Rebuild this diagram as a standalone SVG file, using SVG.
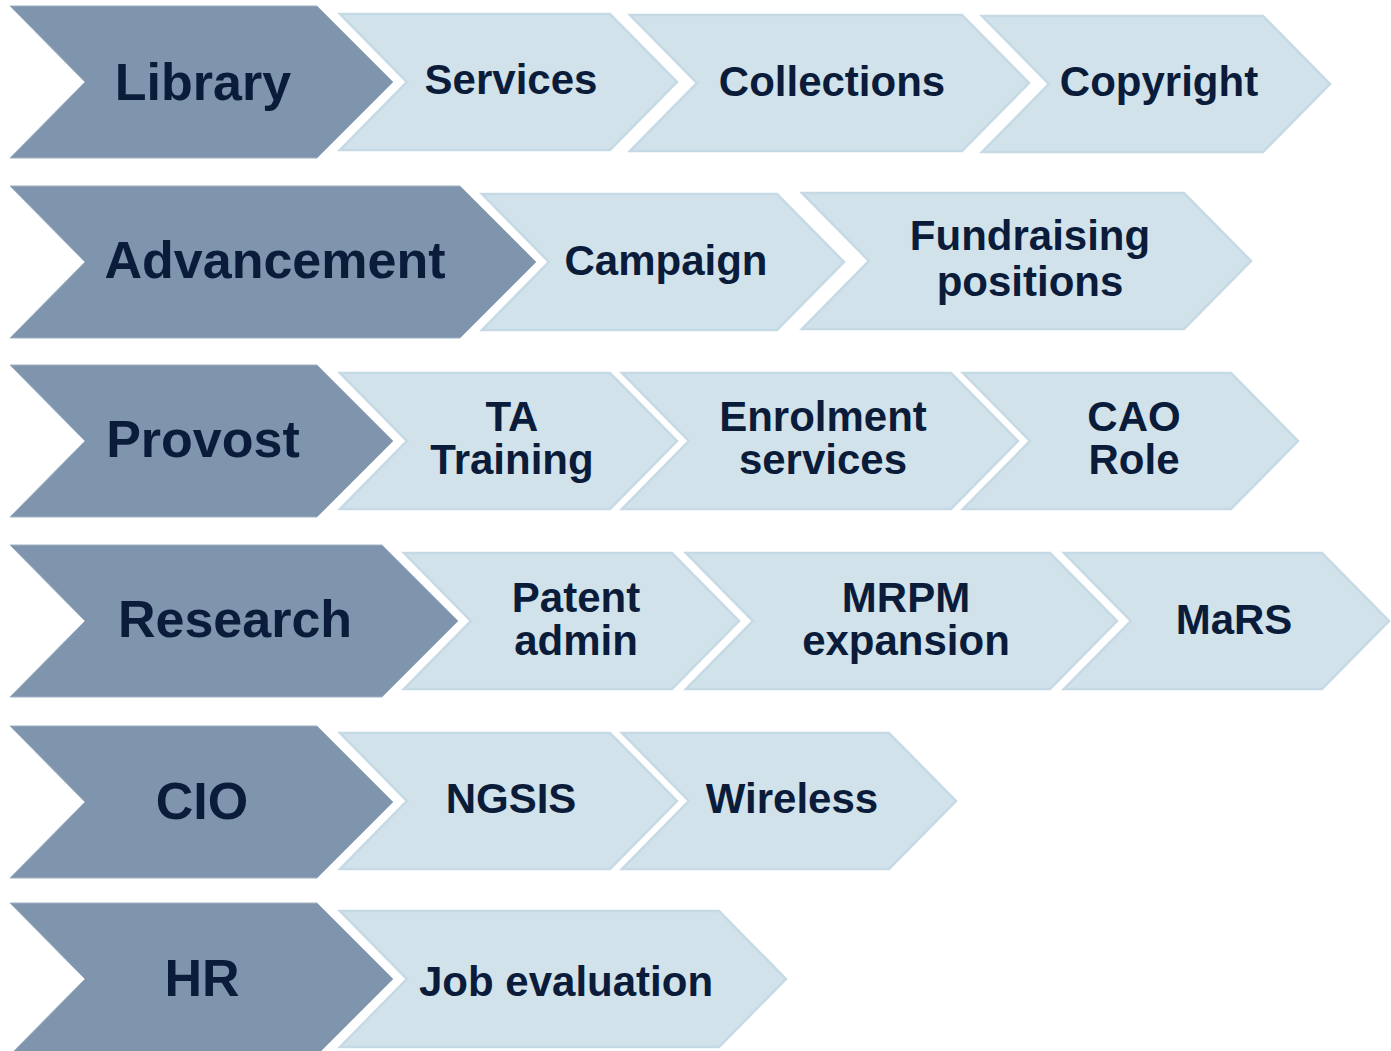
<svg xmlns="http://www.w3.org/2000/svg" width="1391" height="1051" viewBox="0 0 1391 1051">
<style>
.dark{fill:#7f95ad;stroke:#9fb1c3;stroke-width:1}
.light{fill:#d1e2ea;stroke:#c6dae5;stroke-width:2.5;stroke-linejoin:miter}
text{font-family:"Liberation Sans",Arial,sans-serif;font-weight:bold;fill:#0a1c3a;text-anchor:middle}
.big{font-size:52px}
.sm{font-size:42px}
</style>
<rect width="1391" height="1051" fill="#ffffff"/>
<g id="connectors"></g>
<!-- Row 1 -->
<g id="library"><polygon class="dark" points="10,6 317,6 393,82 317,158 10,158 85,82"/><text class="big" x="203" y="100">Library</text></g>
<g id="services"><polygon class="light" points="340,14 610,14 677,82 610,150 340,150 407,82"/><text class="sm" x="511" y="94">Services</text></g>
<g id="collections"><polygon class="light" points="630,15 962,15 1029,83 962,151 630,151 697,83"/><text class="sm" x="832" y="96">Collections</text></g>
<g id="copyright"><polygon class="light" points="982,16 1263,16 1330,84 1263,152 982,152 1049,84"/><text class="sm" x="1159" y="96">Copyright</text></g>
<!-- Row 2 -->
<g id="advancement"><polygon class="dark" points="10,186 460,186 536,262 460,338 10,338 85,262"/><text class="big" x="275" y="278">Advancement</text></g>
<g id="campaign"><polygon class="light" points="482,194 777,194 844,262 777,330 482,330 549,262"/><text class="sm" x="666" y="275">Campaign</text></g>
<g id="fundraising"><polygon class="light" points="802,193 1184,193 1251,261 1184,329 802,329 869,261"/><text class="sm" x="1030" y="250">Fundraising</text><text class="sm" x="1030" y="296">positions</text></g>
<!-- Row 3 -->
<g id="provost"><polygon class="dark" points="10,365 317,365 393,441 317,517 10,517 85,441"/><text class="big" x="203" y="457">Provost</text></g>
<g id="ta-training"><polygon class="light" points="340,373 610,373 677,441 610,509 340,509 407,441"/><text class="sm" x="512" y="431">TA</text><text class="sm" x="512" y="474">Training</text></g>
<g id="enrolment"><polygon class="light" points="622,373 951,373 1018,441 951,509 622,509 689,441"/><text class="sm" x="823" y="431">Enrolment</text><text class="sm" x="823" y="474">services</text></g>
<g id="cao-role"><polygon class="light" points="963,373 1231,373 1298,441 1231,509 963,509 1030,441"/><text class="sm" x="1134" y="431">CAO</text><text class="sm" x="1134" y="474">Role</text></g>
<!-- Row 4 -->
<g id="research"><polygon class="dark" points="10,545 382,545 458,621 382,697 10,697 85,621"/><text class="big" x="235" y="637">Research</text></g>
<g id="patent-admin"><polygon class="light" points="404,553 672,553 739,621 672,689 404,689 471,621"/><text class="sm" x="576" y="612">Patent</text><text class="sm" x="576" y="655">admin</text></g>
<g id="mrpm"><polygon class="light" points="686,553 1050,553 1117,621 1050,689 686,689 753,621"/><text class="sm" x="906" y="612">MRPM</text><text class="sm" x="906" y="655">expansion</text></g>
<g id="mars"><polygon class="light" points="1064,553 1322,553 1389,621 1322,689 1064,689 1131,621"/><text class="sm" x="1234" y="634">MaRS</text></g>
<!-- Row 5 -->
<g id="cio"><polygon class="dark" points="10,726 317,726 393,802 317,878 10,878 85,802"/><text class="big" x="202" y="819">CIO</text></g>
<g id="ngsis"><polygon class="light" points="340,733 610,733 677,801 610,869 340,869 407,801"/><text class="sm" x="511" y="813">NGSIS</text></g>
<g id="wireless"><polygon class="light" points="622,733 889,733 956,801 889,869 622,869 689,801"/><text class="sm" x="792" y="813">Wireless</text></g>
<!-- Row 6 -->
<g id="hr"><polygon class="dark" points="10,903 317,903 393,979 317,1055 10,1055 85,979"/><text class="big" x="202" y="996">HR</text></g>
<g id="job-evaluation"><polygon class="light" points="340,911 719,911 786,979 719,1047 340,1047 407,979"/><text class="sm" x="566" y="996">Job evaluation</text></g>
</svg>
